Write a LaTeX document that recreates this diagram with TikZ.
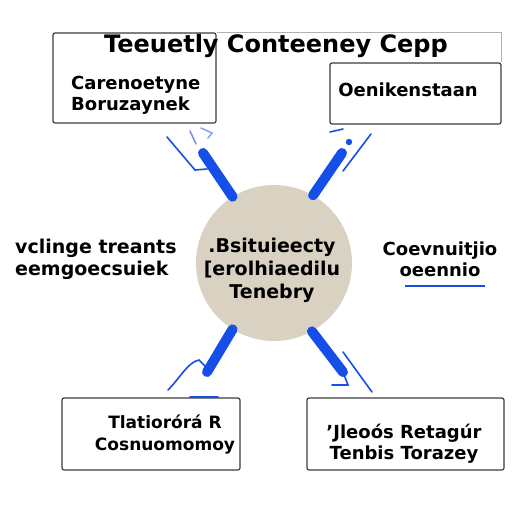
\documentclass[tikz,border=0pt]{standalone}
\usepackage{fontspec}
\setmainfont{DejaVu Sans}
\usepackage{tikz}

\definecolor{penblue}{RGB}{22,78,232}
\definecolor{disc}{RGB}{217,210,195}
\definecolor{edge}{RGB}{60,60,60}

\begin{document}
\begin{tikzpicture}[x=1pt,y=-1pt,
    box/.style={draw=edge, line width=1.2pt, rounded corners=2pt, inner sep=0pt},
    word/.style={font=\bfseries\fontsize{18}{21}\selectfont, inner sep=0pt},
    pen/.style={draw=penblue, line width=10pt, line cap=round},
    stroke/.style={draw=penblue, line width=1.6pt, line cap=round}]
    \useasboundingbox (0,0) rectangle (512,512);

    % Boxes
    \node[box, minimum width=163pt, minimum height=90pt] (tl) at (134.5,78) {};
    \node[box, minimum width=171pt, minimum height=61pt] (tr) at (415.5,93.5) {};
    \node[box, minimum width=178pt, minimum height=72pt] (bl) at (151,434) {};
    \node[box, minimum width=197pt, minimum height=72pt] (br) at (405.5,434) {};
    \draw[gray!60, line width=1pt] (tl.north east) -- (tr.north east |- tl.north east) -- (tr.north east);

    % Centre disc
    \node[circle, fill=disc, minimum size=156pt, inner sep=0pt] (core) at (274,263) {};
    \node[word, align=center, font=\bfseries\fontsize{19}{23}\selectfont] (coretext) at (272,270) {.Bsituieecty\\{[}erolhiaedilu\\Tenebry};

    % Texts
    \node[font=\bfseries\fontsize{24}{24}\selectfont, inner sep=0pt] (title) at (276,46) {Teeuetly Conteeney Cepp};
    \node[word, align=left, anchor=west] (tltext) at (71,95) {Carenoetyne\\Boruzaynek};
    \node[word] (trtext) at (408,90) {Oenikenstaan};
    \node[word, align=left, anchor=west, font=\bfseries\fontsize{19}{22}\selectfont] (lmid) at (15,259) {vclinge treants\\eemgoecsuiek};
    \node[word, align=center] (rmid) at (440,259) {Coevnuitjio\\oeennio};
    \node[word, align=center, font=\bfseries\fontsize{17}{22}\selectfont] (bltext) at (165,435) {Tlatiorórá R\\Cosnuomomoy};
    \node[word, align=center] (brtext) at (404,444) {'Jleoós Retagúr\\Tenbis Torazey};
    \fill[penblue] ([xshift=-35pt, yshift=-8pt]rmid.south) rectangle ++(80,2.5);

    % Blue connectors
    \coordinate (ultip) at (203,153);
    \coordinate (urtip) at (342,153);
    \coordinate (lltip) at (207,372);
    \coordinate (lrtip) at (343,372);
    \draw[pen] (core.122) -- (ultip);
    \draw[pen] (core.60) -- (urtip);
    \draw[pen] (core.238) -- (lltip);
    \draw[pen] (core.299) -- (lrtip);

    % upper left strokes
    \draw[stroke] (167,137) -- (195,170) -- (207,169);
    \draw[stroke, draw=penblue!60] (190,131) -- (196,144);
    \draw[stroke, draw=penblue!50] (201,128) -- (212,133) -- (208,138);
    % upper right strokes
    \fill[penblue] (349,142) circle (3.2pt);
    \draw[stroke] (330,132) -- (343,129);
    \draw[stroke] (343,171) -- (371,134);
    % lower left strokes
    \draw[stroke] (168,390) .. controls (180,378) and (188,362) .. (199,360) -- (205,366);
    \draw[stroke] (190,397) -- (218,397);
    % lower right strokes
    \draw[stroke] (lrtip) -- (348,385) -- (332,385);
    \draw[stroke] (343,352) -- (372,392);
\end{tikzpicture}
\end{document}
